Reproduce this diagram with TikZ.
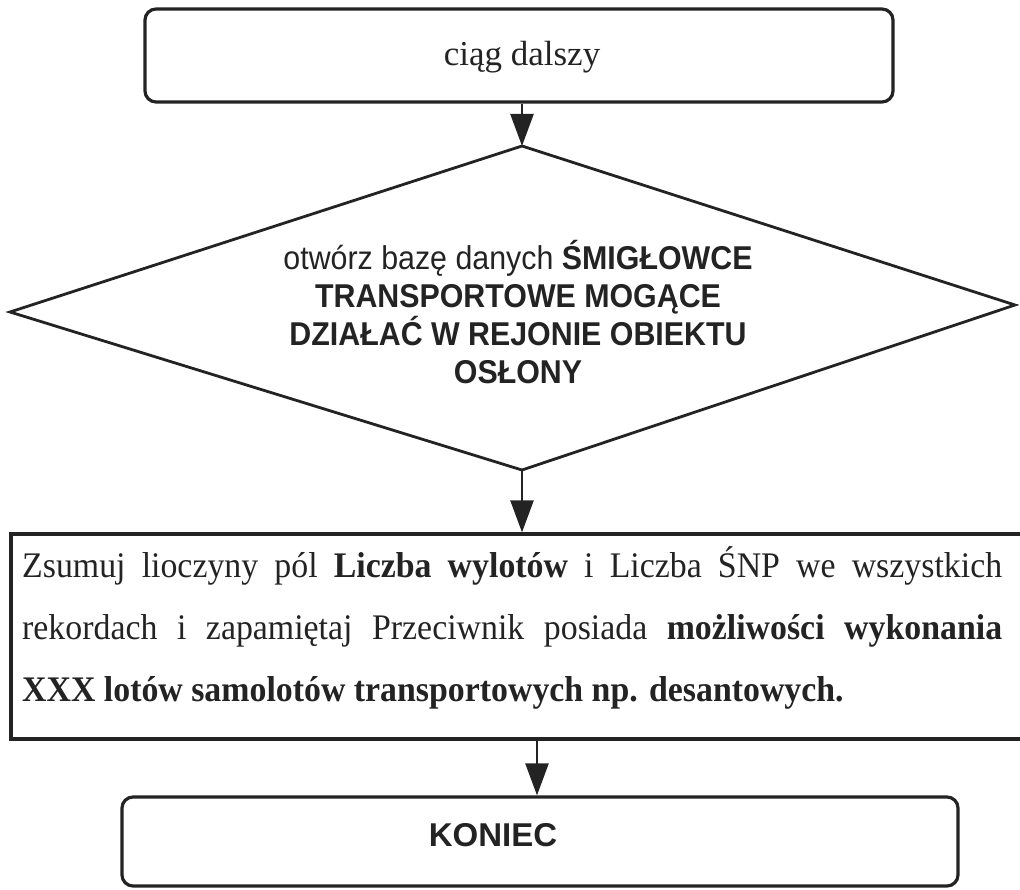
\documentclass[tikz,border=0pt]{standalone}
\usepackage{fontspec}
\setmainfont{Liberation Serif}
\newfontfamily\boxserif[FakeStretch=0.94]{Liberation Serif}
\newfontfamily\boxsans{Liberation Sans}
\newfontfamily\boxsansnarrow[FakeStretch=0.92]{Liberation Sans}
\usetikzlibrary{arrows.meta}
\definecolor{ink}{RGB}{35,35,35}
\begin{document}
\begin{tikzpicture}[x=1pt,y=-1pt,
  roundbox/.style={draw=ink, line width=3.2pt, rounded corners=11pt, inner sep=0pt},
  plainbox/.style={draw=ink, line width=3.2pt, inner sep=0pt},
  diamondline/.style={draw=ink, line width=2.8pt, line join=miter},
  flow/.style={draw=ink, line width=2.4pt, -{Triangle[width=23pt,length=32pt]}},
  label/.style={text=ink, inner sep=0pt},
]
\useasboundingbox (0,0) rectangle (1020,890);
\clip (0,0) rectangle (1020,890);

% start box
\node[roundbox, minimum width=748pt, minimum height=93pt] (start) at (519,55.5) {};
\node[label, anchor=base, font=\fontsize{35}{40}\selectfont] (starttext) at (522,66) {ciąg dalszy};

% decision diamond
\coordinate (dT) at (522,146);
\coordinate (dR) at (1015,305);
\coordinate (dB) at (522,470);
\coordinate (dL) at (10,312);
\draw[diamondline] (dT) -- (dR) -- (dB) -- (dL) -- cycle;
% base anchor sits on the last line of the block
\node[label, anchor=base, align=center,
      font=\boxsansnarrow\bfseries\fontsize{33}{38}\selectfont] (dtext) at (518,384)
  {\mdseries otwórz bazę danych \bfseries ŚMIGŁOWCE\\
   TRANSPORTOWE MOGĄCE\\
   DZIAŁAĆ W REJONIE OBIEKTU\\
   OSŁONY};

% process box; with a text width the base anchor sits on the first line
\node[plainbox, minimum width=1019pt, minimum height=205pt] (proc) at (520.5,636.5) {};
\node[label, anchor=base west, text width=980pt, align=justify,
      font=\boxserif\fontsize{36}{62}\selectfont] (proctext) at (22,577)
  {Zsumuj lioczyny pól \textbf{Liczba wylotów} i Liczba ŚNP we wszystkich\linebreak
   rekordach i zapamiętaj Przeciwnik posiada \textbf{możliwości wykonania}\linebreak
   \textbf{XXX lotów samolotów transportowych np. desantowych.}};

% end box
\node[roundbox, minimum width=836pt, minimum height=89pt] (endbox) at (540,841.5) {};
\node[label, font=\boxsans\bfseries\fontsize{33}{36}\selectfont] (endtext) at (493,835) {KONIEC};

% connectors
\coordinate (a3) at (537,0);
\draw[flow] (dT |- start.south) -- (dT);
\draw[flow] (dB) -- (dB |- proc.north);
\draw[flow] (a3 |- proc.south) -- (a3 |- endbox.north);
\end{tikzpicture}
\end{document}
